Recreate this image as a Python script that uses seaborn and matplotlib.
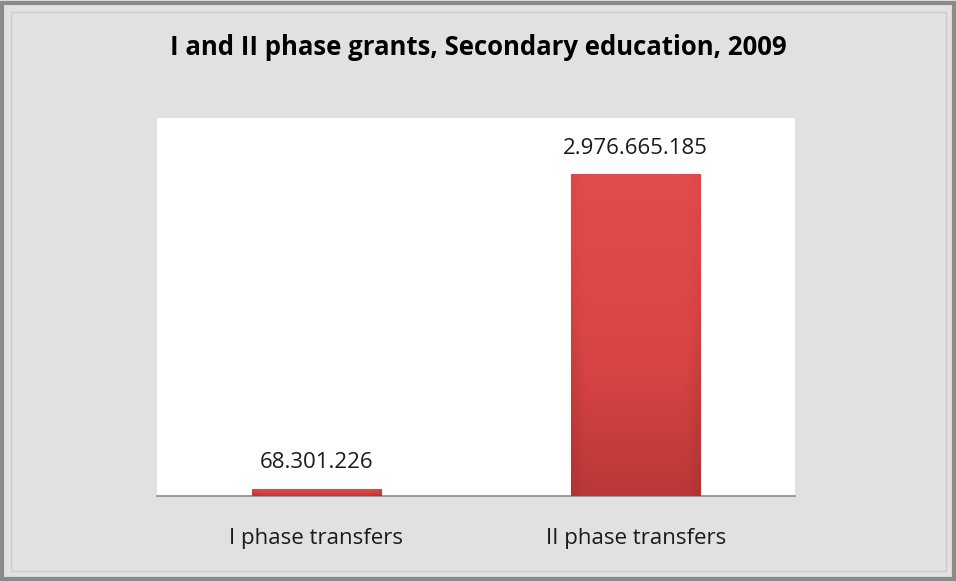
import numpy as np
import pandas as pd
import matplotlib
matplotlib.use('Agg')
import matplotlib.pyplot as plt
from matplotlib.patches import Rectangle
from matplotlib.colors import LinearSegmentedColormap
import seaborn as sns

categories = ['I phase transfers', 'II phase transfers']
values = [68301226, 2976665185]
labels = ['68.301.226', '2.976.665.185']
title = 'I and II phase grants, Secondary education, 2009'

sns.set_theme(style='white')
plt.rcParams['font.family'] = ['Open Sans', 'DejaVu Sans']

df = pd.DataFrame({'category': categories, 'value': values})

fig = plt.figure(figsize=(9.56, 5.81), dpi=100)
fig.patch.set_facecolor('#e1e1e1')

# outer frame
fig.patches.append(Rectangle((0.002, 0.004), 0.996, 0.99, transform=fig.transFigure,
                             fill=False, edgecolor='#8a8a8a', linewidth=3))
fig.patches.append(Rectangle((0.012, 0.018), 0.978, 0.962, transform=fig.transFigure,
                             fill=False, edgecolor='#cccccc', linewidth=1))

ax = fig.add_axes([0.164, 0.1463, 0.668, 0.651])
ax.set_facecolor('white')
sns.barplot(data=df, x='category', y='value', color='#d04040', width=0.405, ax=ax,
            saturation=1)
ax.set_ylim(0, 3.5e9)
ax.set_xlim(-0.5, 1.5)

# gradient fill for the bars (bevel look)
cmap = LinearSegmentedColormap.from_list('bar', ['#a83030', '#d84444', '#e34c4c'])
for p in ax.patches:
    x0, y0 = p.get_x(), p.get_y()
    w, hgt = p.get_width(), p.get_height()
    yy = np.linspace(0, 1, 100)[:, None]
    xx = np.linspace(0, 1, 100)[None, :]
    edge = np.minimum(np.minimum(xx, 1 - xx) * 8, 1)
    img = (0.35 + 0.65 * yy) * (0.75 + 0.25 * edge)
    im = ax.imshow(img, extent=[x0, x0 + w, y0, y0 + hgt], origin='lower', aspect='auto',
                   cmap=cmap, vmin=0.2, vmax=1, zorder=3)
    im.set_clip_path(p)
    p.set_edgecolor('#c03a3a')
    p.set_linewidth(0.8)

for i, (v, lab) in enumerate(zip(values, labels)):
    ax.annotate(lab, (i, v), xytext=(0, 11), textcoords='offset points', ha='center',
                va='bottom', fontsize=16, color='#1a1a1a')

ax.set_xlabel('')
ax.set_ylabel('')
ax.set_yticks([])
for s in ['top', 'left', 'right']:
    ax.spines[s].set_visible(False)
ax.spines['bottom'].set_color('#8c8c8c')
ax.spines['bottom'].set_linewidth(1.2)
ax.tick_params(axis='x', length=0, pad=23, labelsize=16, labelcolor='#1a1a1a')

fig.text(0.5, 0.919, title, ha='center', va='center', fontsize=18.5, fontweight='bold',
         color='#000000')

fig.savefig('out.png', dpi=100, facecolor=fig.get_facecolor())
